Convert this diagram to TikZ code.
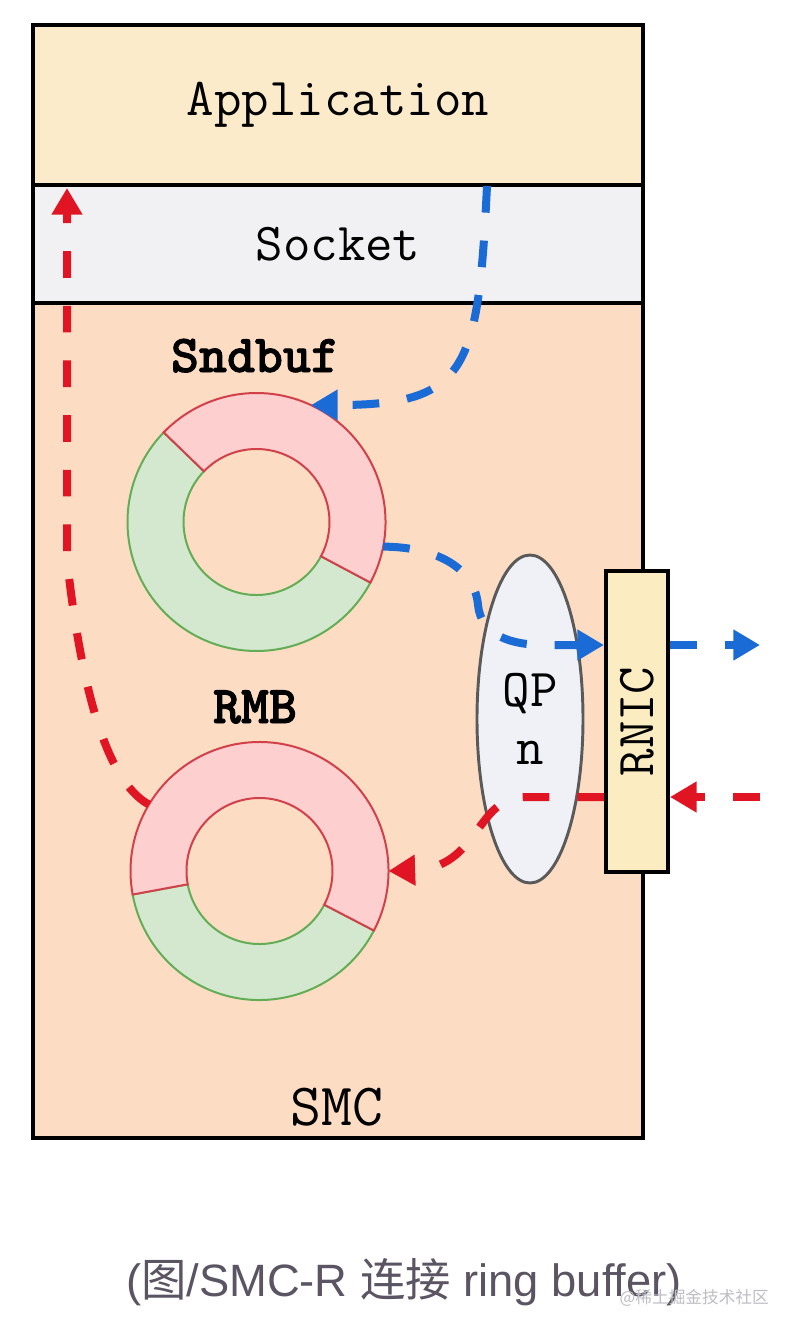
\documentclass[tikz,border=0pt]{standalone}
\usepackage{fontspec}
\newfontfamily\capsans{Liberation Sans}
\newfontfamily\cjk{Noto Sans CJK SC}
\newfontfamily\heavytt{lmmonolt10-bold.otf}[FakeBold=1.6]
\usetikzlibrary{shapes.geometric,arrows.meta,calc}
\definecolor{appfill}{HTML}{FBEBCB}
\definecolor{sockfill}{HTML}{F1F1F4}
\definecolor{smcfill}{HTML}{FDDCC4}
\definecolor{ringred}{HTML}{FDD0CF}
\definecolor{ringredline}{HTML}{D2404A}
\definecolor{ringgreen}{HTML}{D4E8CF}
\definecolor{ringgreenline}{HTML}{62AD55}
\definecolor{qpfill}{HTML}{EFF1F7}
\definecolor{qpline}{HTML}{5A5A5A}
\definecolor{rnicfill}{HTML}{FBECC2}
\definecolor{flowblue}{HTML}{1A6BD6}
\definecolor{flowred}{HTML}{E01422}
\definecolor{capgray}{HTML}{5B5563}
\definecolor{wmgray}{HTML}{BDBDC4}
\begin{document}
\begin{tikzpicture}[x=0.75pt,y=-0.75pt,
  layer/.style={draw=black, line width=3pt, minimum width=457.5pt, inner sep=0pt, outer sep=0pt},
  mono/.style={font=\ttfamily\fontsize{40}{43.5}\selectfont},
  monob/.style={font=\heavytt\fontsize{40}{43.5}\selectfont},
  smcfont/.style={font=\ttfamily\fontsize{45}{50}\selectfont},
  ringnode/.style={circle, minimum size=193.5pt, inner sep=0pt, outer sep=0pt},
  redsector/.style={fill=ringred, draw=ringredline, line width=1.5pt},
  greensector/.style={fill=ringgreen, draw=ringgreenline, line width=1.5pt},
  flowB/.style={draw=flowblue, line width=6pt, dash pattern=on 20pt off 21pt, -{Triangle[length=20pt,width=22pt]}},
  flowR/.style={draw=flowred, line width=6pt, dash pattern=on 20pt off 21pt, -{Triangle[length=20pt,width=22pt]}}
]
\fill[white] (0,0) rectangle (790,1332);
\useasboundingbox (0,0) rectangle (790,1332);

% layers
\node[layer, fill=smcfill, minimum height=626.25pt] (smc) at (338,720.5) {};
\node[layer, fill=appfill, minimum height=120pt, mono] (app) at (338,105) {Application};
\node[layer, fill=sockfill, minimum height=88.5pt, mono] (sock) at (338,244) {Socket};
\node[smcfont, anchor=base] (smclbl) at (337,1125) {SMC};

% rings
\node[ringnode] (snd) at (256.5,522) {};
\node[ringnode] (rmb) at (259.5,871) {};

\filldraw[greensector] (snd.center) ++(136:96.75pt) arc[start angle=136, end angle=332, radius=96.75pt]
  -- ($(snd.center)+(332:54.75pt)$) arc[start angle=332, end angle=136, radius=54.75pt] -- cycle;
\filldraw[redsector] (snd.center) ++(-28:96.75pt) arc[start angle=-28, end angle=136, radius=96.75pt]
  -- ($(snd.center)+(136:54.75pt)$) arc[start angle=136, end angle=-28, radius=54.75pt] -- cycle;

\filldraw[greensector] (rmb.center) ++(190.5:96.75pt) arc[start angle=190.5, end angle=332.5, radius=96.75pt]
  -- ($(rmb.center)+(332.5:54.75pt)$) arc[start angle=332.5, end angle=190.5, radius=54.75pt] -- cycle;
\filldraw[redsector] (rmb.center) ++(-27.5:96.75pt) arc[start angle=-27.5, end angle=190.5, radius=96.75pt]
  -- ($(rmb.center)+(190.5:54.75pt)$) arc[start angle=190.5, end angle=-27.5, radius=54.75pt] -- cycle;

\node[monob, anchor=base] (sndlbl) at (255,372) {Sndbuf};
\node[monob, anchor=base] (rmblbl) at (255,723) {RMB};

% QP and RNIC
\node[ellipse, draw=qpline, line width=2.2pt, fill=qpfill, minimum width=79.5pt, minimum height=246pt,
      inner sep=0pt, align=center, mono] (qp) at (530,719) {QP\\n};
\node[draw=black, line width=3pt, fill=rnicfill, minimum width=46.5pt, minimum height=225.75pt,
      inner sep=0pt, mono] (rnic) at (637,721.5) {\rotatebox{90}{RNIC}};

% connector ends
\coordinate (b1s) at (487,186);
\path (rnic.west) ++(0,-76.5) coordinate (rinB);
\path (rnic.east) ++(0,-76.5) coordinate (routB);
\coordinate (bfar) at (760,645);
\coordinate (rfar) at (760,797);
\path (rnic.east) ++(0,75.5) coordinate (rinR);
\path (rnic.west) ++(0,75.5) coordinate (routR);
\coordinate (rtop) at (67,188);

% blue flow
\draw[flowB] (b1s) .. controls (478,370) and (468,405) .. (snd.65);
\draw[flowB] (snd.-11) .. controls (440,547) and (475,570) .. (478,605)
   .. controls (481,635) and (510,645) .. (545,645) -- (rinB);
\draw[flowB] (routB) -- (bfar);

% red flow
\draw[flowR] (rfar) -- (rinR);
\draw[flowR] (routR) -- (525,797) .. controls (475,797) and (480,868) .. (rmb.east);
\draw[flowR] (rmb.149) .. controls (108,782) and (82,695) .. (67,560) -- (rtop);

% caption
\node[anchor=base, text=capgray, font=\capsans\fontsize{34}{40}\selectfont] (cap) at (404,1296)
  {(\cjk 图\capsans/SMC-R \cjk 连接\capsans{} ring buffer)};
\node[anchor=base west, text=wmgray, font=\cjk\fontsize{12.5}{14}\selectfont] (wm) at (615,1303) {@稀土掘金技术社区};
\end{tikzpicture}
\end{document}
